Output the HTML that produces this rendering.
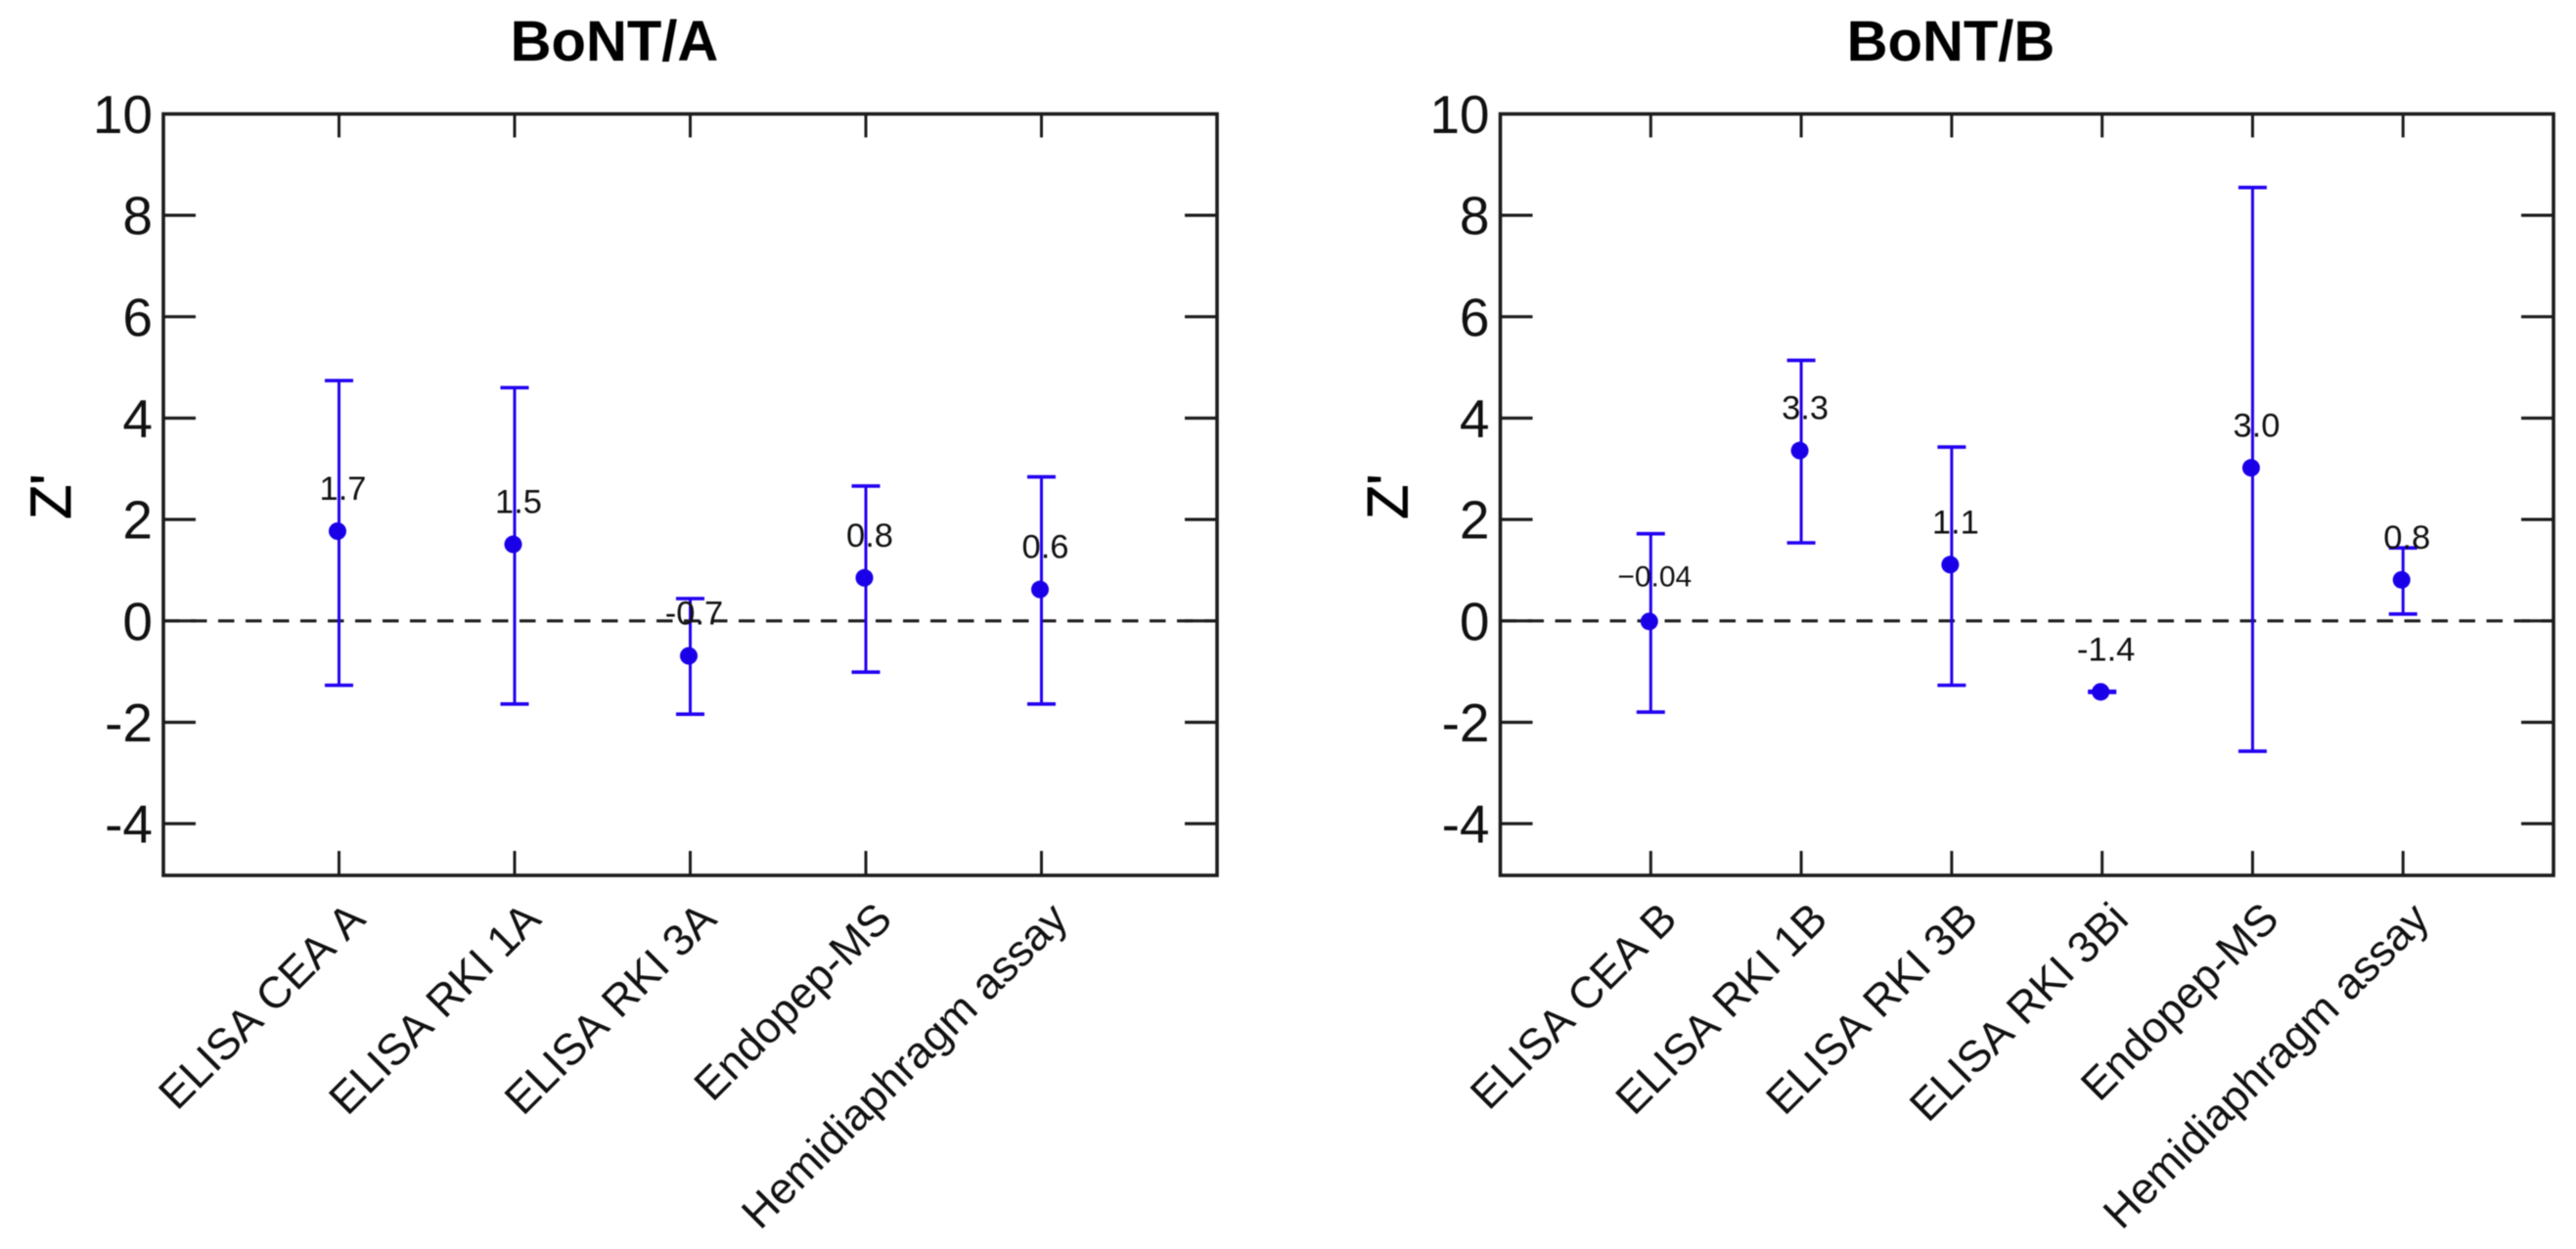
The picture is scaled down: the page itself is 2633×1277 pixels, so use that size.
<!DOCTYPE html>
<html>
<head>
<meta charset="utf-8">
<title>BoNT/A and BoNT/B Z' scores</title>
<style>
html,body{margin:0;padding:0;background:#fff;width:2633px;height:1277px;overflow:hidden}
svg{display:block;font-family:"Liberation Sans",Arial,sans-serif;font-kerning:none;filter:blur(0.5px)}
</style>
</head>
<body>
<svg id="chart" xmlns="http://www.w3.org/2000/svg" width="2633" height="1277" viewBox="0 0 2633 1277">
<rect x="0" y="0" width="2633" height="1277" fill="#ffffff"/>
</svg>
<script>
var yTicks = [-4, -2, 0, 2, 4, 6, 8, 10];

var categoriesA = ["ELISA CEA A", "ELISA RKI 1A", "ELISA RKI 3A", "Endopep-MS", "Hemidiaphragm assay"];
var pointsA = [1.77, 1.51, -0.69, 0.85, 0.62];
var upperA = [4.74, 4.60, 0.44, 2.66, 2.84];
var lowerA = [-1.27, -1.64, -1.84, -1.01, -1.64];
var printedA = ["1.7", "1.5", "-0.7", "0.8", "0.6"];

var categoriesB = ["ELISA CEA B", "ELISA RKI 1B", "ELISA RKI 3B", "ELISA RKI 3Bi", "Endopep-MS", "Hemidiaphragm assay"];
var pointsB = [-0.01, 3.36, 1.11, -1.40, 3.02, 0.81];
var upperB = [1.72, 5.14, 3.43, -1.39, 8.55, 1.44];
var lowerB = [-1.80, 1.54, -1.27, -1.41, -2.57, 0.135];
var printedB = ["\u22120.04", "3.3", "1.1", "-1.4", "3.0", "0.8"];

var SVG_NS = "http://www.w3.org/2000/svg";
var root = document.getElementById("chart");

function el(parent, tag, attrs, text) {
  var node = document.createElementNS(SVG_NS, tag);
  for (var k in attrs) { node.setAttribute(k, attrs[k]); }
  if (text !== undefined) { node.textContent = text; }
  parent.appendChild(node);
  return node;
}

function drawPanel(slug, title, categories, points, upper, lower, printed, left, right, titleX) {
  var top = 116.5, bottom = 895;
  var yMax = 10, yMin = -5.02;
  var xMax = categories.length + 1;
  function xScale(v) { return left + (right - left) * v / xMax; }
  function yScale(v) { return top + (bottom - top) * (yMax - v) / (yMax - yMin); }
  var ink = "#1c1c1c";
  var blue = "#2200f2";

  var g = el(root, "g", {});
  
  

  var t = el(g, "text", {x: titleX, y: 62, "text-anchor": "middle", "font-size": 58, "font-weight": "bold", fill: "#000"}, title);
  
  

  var yl = el(g, "text", {transform: "translate(" + (left - 95) + ",531) rotate(-90)", "font-size": 58, fill: "#000", stroke: "#000", "stroke-width": 0.8}, "Z'");
  
  

  yTicks.forEach(function (v) {
    var y = yScale(v);
    var tl = el(g, "text", {x: left - 11, y: y + 19.5, "text-anchor": "end", "font-size": 55, fill: "#111"}, String(v));
    
    
    if (v === yMax) { return; }
    var a = el(g, "line", {x1: left, x2: left + 33, y1: y, y2: y, stroke: ink, "stroke-width": 3.2});
    
    
    var b = el(g, "line", {x1: right - 33, x2: right, y1: y, y2: y, stroke: ink, "stroke-width": 3.2});
    
    
  });

  var zero = el(g, "line", {x1: left, x2: right, y1: yScale(0), y2: yScale(0), stroke: ink, "stroke-width": 3.2, "stroke-dasharray": "16.5 11.5"});
  
  

  categories.forEach(function (name, i) {
    var x = xScale(i + 1);

    var tt = el(g, "line", {x1: x, x2: x, y1: top, y2: top + 24, stroke: ink, "stroke-width": 3});
    
    
    var tb = el(g, "line", {x1: x, x2: x, y1: bottom - 25, y2: bottom, stroke: ink, "stroke-width": 3});
    
    

    var cat = el(g, "text", {transform: "translate(" + (x + 29) + ",942) rotate(-45)", "text-anchor": "end", "font-size": 45, fill: "#111"}, name);
    
    

    var stem = el(g, "line", {x1: x, x2: x, y1: yScale(upper[i]), y2: yScale(lower[i]), stroke: blue, "stroke-width": 3});
    
    
    var cu = el(g, "line", {x1: x - 14.5, x2: x + 14.5, y1: yScale(upper[i]), y2: yScale(upper[i]), stroke: blue, "stroke-width": 3.6});
    
    
    var cl = el(g, "line", {x1: x - 14.5, x2: x + 14.5, y1: yScale(lower[i]), y2: yScale(lower[i]), stroke: blue, "stroke-width": 3.6});
    
    

    var dot = el(g, "circle", {cx: x - 1.5, cy: yScale(points[i]), r: 9, fill: "#1a00e8"});
    
    

    var longLabel = printed[i].length > 4;
    var val = el(g, "text", {x: x + 4, y: yScale(points[i]) - (longLabel ? 36 : 32), "text-anchor": "middle", "font-size": longLabel ? 30 : 34.5, fill: "#111"}, printed[i]);
    
    
  });

  var frame = el(g, "rect", {x: left, y: top, width: right - left, height: bottom - top, fill: "none", stroke: ink, "stroke-width": 3.6});
  
  
}

drawPanel("bont-a", "BoNT/A", categoriesA, pointsA, upperA, lowerA, printedA, 167, 1244, 628);
drawPanel("bont-b", "BoNT/B", categoriesB, pointsB, upperB, lowerB, printedB, 1533.5, 2610, 1994);
</script>
</body>
</html>
